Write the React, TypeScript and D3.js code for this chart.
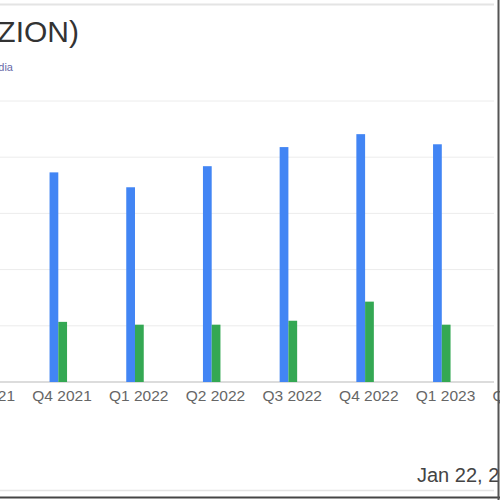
import * as d3 from "d3";

// quarters shown on the x axis (first and last are cut off by the frame)
const quarters = ["Q3 2021", "Q4 2021", "Q1 2022", "Q2 2022", "Q3 2022", "Q4 2022", "Q1 2023", "Q2 2023"];
// values in $M
const revenue: (number | null)[] = [null, 746, 693, 768, 836, 882, 846, null];
const netIncome: (number | null)[] = [null, 214, 204, 204, 218, 286, 204, null];
const yTicks = [0, 200, 400, 600, 800, 1000];
const seriesKeys = ["revenue", "netIncome"];
const seriesColors = ["#4285F4", "#34A853"];

const W = 500;
const H = 500;

export default function App() {
  const x = d3.scaleBand().domain(quarters).range([-53, 560.6]).padding(0);
  const inner = d3.scaleBand().domain(seriesKeys).range([-12.5, 5]).padding(0);
  const y = d3.scaleLinear().domain([0, 1000]).range([382, 101]);
  const series = [revenue, netIncome];
  const center = (q: string) => (x(q) ?? 0) + x.bandwidth() / 2;

  return (
    <div style={{ position: "fixed", top: 0, left: 0 }}>
      <svg width={W} height={H} viewBox={`0 0 ${W} ${H}`} style={{ display: "block", background: "#fff" }}>
        {/* header strip */}
        <line x1={0} x2={494} y1={4.5} y2={4.5} stroke="#e4e4e4" strokeWidth={2} />
        <text x={79} y={42} textAnchor="end" fontFamily="Liberation Sans, Arial, sans-serif" fontSize={30} fill="#333">
          Zions Bancorporation (ZION)
        </text>
        <text x={13} y={71} textAnchor="end" fontFamily="Liberation Sans, Arial, sans-serif" fontSize={11} fill="#6a6aa8">
          Revenue &amp; Net Income, Alpha Media
        </text>

        {/* grid */}
        {yTicks.map((t) => (
          <line key={t} x1={0} x2={494} y1={y(t)} y2={y(t)} stroke={t === 0 ? "#d0d0d0" : "#ececec"} strokeWidth={t === 0 ? 1.5 : 1} />
        ))}

        {/* bars */}
        {quarters.map((q, i) => (
          <g key={q} transform={`translate(${center(q)},0)`}>
            {series.map((s, k) => {
              const v = s[i];
              if (v == null) return null;
              return (
                <rect
                  key={seriesKeys[k]}
                  x={inner(seriesKeys[k])}
                  y={y(v)}
                  width={inner.bandwidth()}
                  height={y(0) - y(v)}
                  fill={seriesColors[k]}
                />
              );
            })}
          </g>
        ))}

        {/* x tick labels */}
        {quarters.map((q) => (
          <text
            key={q}
            x={center(q)}
            y={401}
            textAnchor="middle"
            fontFamily="Liberation Sans, Arial, sans-serif"
            fontSize={15.5}
            fill="#666"
          >
            {q}
          </text>
        ))}

        {/* footer */}
        <text x={417} y={482} fontFamily="Liberation Sans, Arial, sans-serif" fontSize={20} fill="#444">
          Jan 22, 2024
        </text>
        <line x1={0} x2={494} y1={490.5} y2={490.5} stroke="#e4e4e4" strokeWidth={1.5} />
        <line x1={0} x2={500} y1={497.5} y2={497.5} stroke="#444" strokeWidth={2} />
        <line x1={498.5} x2={498.5} y1={0} y2={500} stroke="#555" strokeWidth={2} />
      </svg>
    </div>
  );
}
